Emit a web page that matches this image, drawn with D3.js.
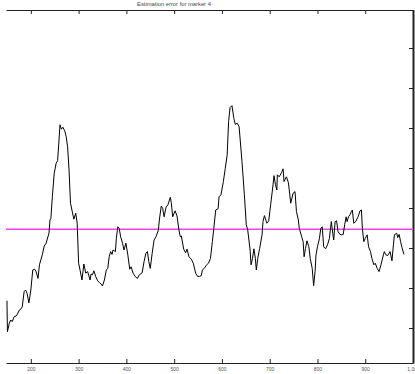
<!DOCTYPE html>
<html>
<head>
<meta charset="utf-8">
<script src="https://cdn.jsdelivr.net/npm/d3@7"></script>
<style>
  body { margin: 0; background: #fff; }
  svg { display: block; font-family: "Liberation Sans", Arial, sans-serif; }
</style>
</head>
<body>
<svg id="chart" width="415" height="374"></svg>
<script>
// estimation error per frame
const frames = [150,151,155,158,161,165,169,172,176,179,182,186,189,192,196,200,204,208,211,215,218,224,228,232,238,240,242,245,249,253,256,259,261,264,267,271,274,277,280,283,286,290,294,297,300,303,307,311,315,319,324,326,329,332,336,340,344,347,350,354,358,361,364,367,370,372,377,379,382,385,388,392,395,399,403,407,410,414,419,423,427,433,437,441,444,447,450,454,458,462,467,469,473,476,479,483,487,492,494,497,502,506,510,513,515,520,524,527,531,536,540,545,549,553,557,559,563,568,572,576,580,583,587,592,594,598,603,607,611,614,617,621,625,628,632,636,642,647,651,654,659,661,664,667,670,672,675,679,684,686,689,694,698,702,707,709,712,715,716,720,725,728,730,735,739,741,744,749,753,756,760,762,767,770,772,775,778,782,785,789,792,795,797,800,804,807,810,813,817,821,825,829,832,834,837,840,843,847,851,854,857,860,862,865,868,871,873,876,880,885,889,892,894,897,900,904,907,911,914,918,921,925,929,933,938,940,943,947,952,956,959,961,966,968,971,974,977,981];
const errors = [1.68,0.91,1.12,1.20,1.16,1.28,1.30,1.35,1.45,1.47,1.53,1.91,1.95,1.87,1.63,1.95,2.45,2.47,2.41,2.24,2.58,2.83,3.05,3.12,3.37,3.70,3.74,4.28,4.87,5.12,5.18,5.70,6.08,5.97,6.02,5.93,5.78,5.53,4.95,4.12,3.95,3.72,3.87,3.62,2.62,2.45,2.20,2.60,2.37,2.41,2.20,2.35,2.33,2.43,2.28,2.18,2.13,2.10,2.05,2.20,2.45,2.49,2.78,2.91,2.84,2.95,2.91,3.24,3.53,3.49,3.28,3.12,2.95,3.12,2.83,2.47,2.53,2.37,2.28,2.24,2.33,2.38,2.66,2.87,2.91,2.66,2.49,2.87,3.20,3.28,3.45,3.70,4.05,3.99,3.78,4.02,4.08,4.27,4.13,3.78,3.93,3.80,3.45,3.28,3.30,2.97,2.88,2.97,2.78,2.72,2.62,2.37,2.29,2.29,2.31,2.45,2.49,2.58,2.62,2.74,3.16,3.49,3.95,3.98,4.28,4.33,4.66,4.99,5.33,6.16,6.51,6.56,6.24,6.09,6.12,6.03,5.16,4.33,3.58,3.45,2.95,2.58,2.74,2.98,2.74,2.45,2.74,2.99,3.33,3.66,3.81,3.62,3.68,4.08,4.58,4.81,4.59,4.45,4.83,4.78,4.89,4.98,4.66,4.78,4.64,4.45,4.12,4.37,4.41,3.91,3.70,3.49,3.28,3.16,2.78,2.99,3.18,3.03,2.73,2.49,2.06,2.41,2.83,3.03,3.23,3.49,3.53,3.03,2.98,3.08,3.24,3.66,3.37,3.20,3.66,3.68,3.41,3.34,3.33,3.34,3.59,3.78,3.66,3.78,3.83,3.91,3.95,3.62,3.66,3.78,3.93,3.95,3.49,3.16,3.24,3.33,3.03,2.91,2.74,2.58,2.62,2.49,2.41,2.58,2.83,2.91,2.83,2.81,2.91,2.68,3.08,3.33,3.37,3.26,3.34,3.16,3.01,2.84];
const meanError = 3.47;
const xTicks = [200,300,400,500,600,700,800,900,1000];
const yTicks = [1,2,3,4,5,6,7,8];
const title = "Estimation error for marker 4";

const svg = d3.select('#chart');
const plotLeft = 6, plotRight = 413, plotTop = 10, plotBottom = 363;

const x = d3.scaleLinear().domain([148, 1000]).range([plotLeft, plotRight]);
const y = d3.scaleLinear().domain([0.125, 8.95]).range([plotBottom, plotTop]);

const axisColor = '#222';

// bottom axis with labels
const gx = svg.append('g')
  .attr('transform', `translate(0,${plotBottom})`)
  .call(d3.axisBottom(x).tickValues(xTicks).tickSize(-4).tickSizeOuter(0).tickPadding(4));

// top axis, ticks only
const gt = svg.append('g')
  .attr('transform', `translate(0,${plotTop})`)
  .call(d3.axisTop(x).tickValues(xTicks).tickSize(-4).tickSizeOuter(0).tickFormat(''));

// right axis, ticks only
const gr = svg.append('g')
  .attr('transform', `translate(${plotRight},0)`)
  .call(d3.axisRight(y).tickValues(yTicks).tickSize(-4).tickSizeOuter(0).tickFormat(''));

[gx, gt, gr].forEach(g => {
  g.select('.domain').attr('stroke', axisColor);
  g.selectAll('.tick line').attr('stroke', axisColor);
});
gr.select('.domain').attr('stroke-width', 2);
gx.selectAll('.tick text')
  .attr('font-size', 5)
  .attr('fill', '#555');

// mean line
svg.append('line')
  .attr('x1', plotLeft).attr('x2', plotRight)
  .attr('y1', y(meanError)).attr('y2', y(meanError))
  .attr('stroke', '#f040f0')
  .attr('stroke-width', 1.5);

// error curve
const line = d3.line()
  .x((d, i) => x(frames[i]))
  .y(d => y(d));

svg.append('path')
  .datum(errors)
  .attr('fill', 'none')
  .attr('stroke', '#000')
  .attr('stroke-width', 1)
  .attr('d', line);

svg.append('text')
  .attr('x', 174)
  .attr('y', 6)
  .attr('text-anchor', 'middle')
  .attr('font-size', 5.8)
  .attr('fill', '#444')
  .text(title);
</script>
</body>
</html>
